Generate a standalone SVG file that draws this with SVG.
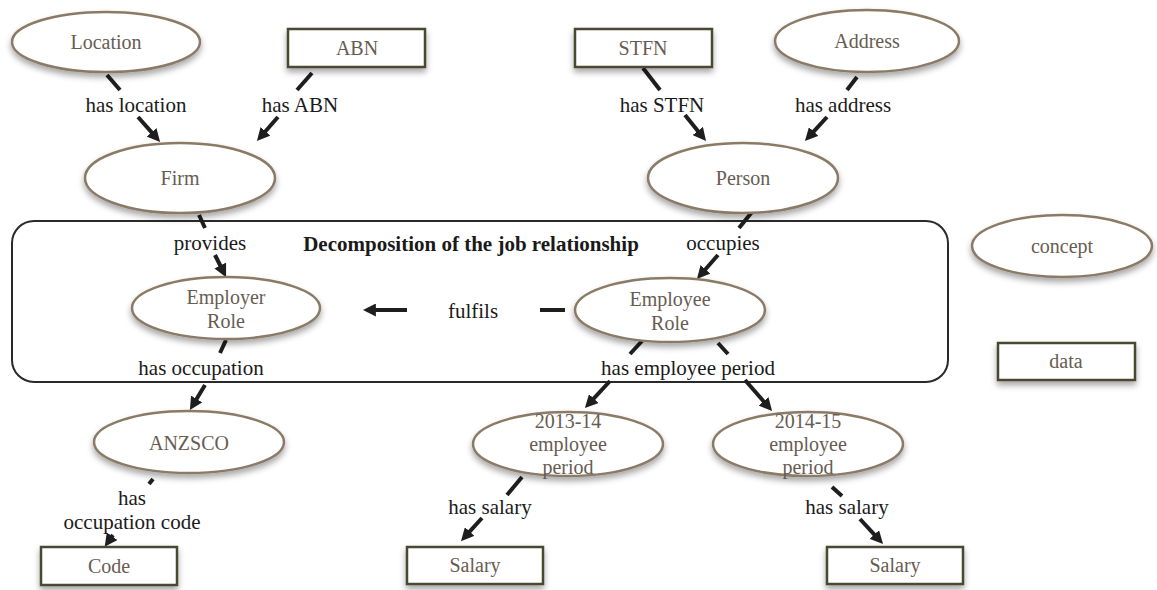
<svg xmlns="http://www.w3.org/2000/svg" width="1157" height="590" viewBox="0 0 1157 590">
<defs>
<filter id="sh" x="-20%" y="-30%" width="140%" height="170%">
<feDropShadow dx="0" dy="4" stdDeviation="3" flood-color="#000" flood-opacity="0.35"/>
</filter>
<marker id="ah" viewBox="0 0 10 10" refX="3" refY="5" markerWidth="13" markerHeight="13" markerUnits="userSpaceOnUse" orient="auto">
<path d="M0,0 L10,5 L0,10 z" fill="#1e1e1e"/>
</marker>
<style>
.con{fill:#fff;stroke:#8a7a66;stroke-width:2.5;filter:url(#sh)}
.dat{fill:#fff;stroke:#4a4a30;stroke-width:2.5;filter:url(#sh)}
text{font-family:'Liberation Serif','DejaVu Serif',serif}
.nl{font-size:20px;fill:#675c52;text-anchor:middle}
.el{font-size:21px;fill:#1a1a1a;text-anchor:middle}
.ttl{font-size:21px;font-weight:bold;fill:#1a1a1a;text-anchor:middle}
.ln{stroke:#1e1e1e;stroke-width:4;fill:none}
.ar{stroke:#1e1e1e;stroke-width:4;fill:none;marker-end:url(#ah)}
</style>
</defs>
<rect width="1157" height="590" fill="#fff"/>

<g id="frame" font-family="Liberation Serif, serif">
<rect x="12" y="221" width="936" height="161" rx="22" fill="none" stroke="#2a2a2a" stroke-width="2"/>
<text class="ttl" x="471" y="251">Decomposition of the job relationship</text>
</g>

<g id="connectors" font-family="Liberation Serif, serif">
<line class="ln" x1="107" y1="75" x2="120" y2="90"/>
<line class="ar" x1="138" y1="117" x2="154.1" y2="135.2"/>
<text class="el" x="136" y="112">has location</text>
<line class="ln" x1="312" y1="73" x2="297" y2="90"/>
<line class="ar" x1="278" y1="117" x2="262.9" y2="134.2"/>
<text class="el" x="300" y="112">has ABN</text>
<line class="ln" x1="643" y1="68" x2="660" y2="90"/>
<line class="ar" x1="685" y1="115" x2="700.3" y2="134"/>
<text class="el" x="662" y="112">has STFN</text>
<line class="ln" x1="857" y1="77" x2="847" y2="90"/>
<line class="ar" x1="827" y1="117" x2="811.1" y2="134.4"/>
<text class="el" x="843" y="112">has address</text>
<line class="ln" x1="199" y1="215" x2="205" y2="228"/>
<line class="ar" x1="215" y1="255" x2="222" y2="269"/>
<text class="el" x="210" y="250">provides</text>
<line class="ln" x1="752" y1="212" x2="739" y2="228"/>
<line class="ar" x1="718" y1="255" x2="702.9" y2="272.2"/>
<text class="el" x="723" y="250">occupies</text>
<line class="ln" x1="565" y1="310" x2="540" y2="310"/>
<line class="ar" x1="407" y1="310" x2="372" y2="310"/>
<text class="el" x="473" y="318">fulfils</text>
<line class="ln" x1="226" y1="340" x2="220" y2="353"/>
<line class="ar" x1="205" y1="385" x2="194.6" y2="402.3"/>
<text class="el" x="201" y="375">has occupation</text>
<line class="ln" x1="642" y1="341" x2="630" y2="354"/>
<line class="ar" x1="610" y1="381" x2="591.1" y2="401.4"/>
<line class="ln" x1="718" y1="343" x2="728" y2="354"/>
<line class="ar" x1="745" y1="380" x2="766.1" y2="404.2"/>
<text class="el" x="688" y="375">has employee period</text>
<line class="ln" x1="153" y1="479" x2="149" y2="484"/>
<line class="ar" x1="113" y1="535" x2="109.9" y2="539.4"/>
<text class="el" x="132" y="505">has</text>
<text class="el" x="132" y="529">occupation code</text>
<line class="ln" x1="522" y1="477" x2="507" y2="495"/>
<line class="ar" x1="482" y1="518" x2="467.1" y2="534.4"/>
<text class="el" x="490" y="514">has salary</text>
<line class="ln" x1="832" y1="487" x2="842" y2="496"/>
<line class="ar" x1="860" y1="519" x2="876.9" y2="537.4"/>
<text class="el" x="847" y="514">has salary</text>
</g>

<g id="location"><ellipse class="con" cx="106" cy="42" rx="94" ry="30"/><text class="nl" x="106" y="49">Location</text></g>
<g id="abn"><rect class="dat" x="288" y="29" width="137" height="38"/><text class="nl" x="357" y="55">ABN</text></g>
<g id="stfn"><rect class="dat" x="575" y="29" width="137" height="38"/><text class="nl" x="643" y="55">STFN</text></g>
<g id="address"><ellipse class="con" cx="867" cy="41" rx="92" ry="31"/><text class="nl" x="867" y="48">Address</text></g>
<g id="firm"><ellipse class="con" cx="180" cy="178" rx="95" ry="35"/><text class="nl" x="180" y="185">Firm</text></g>
<g id="person"><ellipse class="con" cx="743" cy="178" rx="95" ry="35"/><text class="nl" x="743" y="185">Person</text></g>
<g id="employer-role"><ellipse class="con" cx="226" cy="308" rx="94" ry="31"/><text class="nl" x="226" y="304">Employer</text><text class="nl" x="226" y="328">Role</text></g>
<g id="employee-role"><ellipse class="con" cx="670" cy="310" rx="95" ry="32"/><text class="nl" x="670" y="306">Employee</text><text class="nl" x="670" y="330">Role</text></g>
<g id="concept"><ellipse class="con" cx="1062" cy="246" rx="90" ry="31"/><text class="nl" x="1062" y="253">concept</text></g>
<g id="data"><rect class="dat" x="998" y="343" width="137" height="37"/><text class="nl" x="1066" y="368">data</text></g>
<g id="anzsco"><ellipse class="con" cx="189" cy="442" rx="95" ry="31"/><text class="nl" x="189" y="450">ANZSCO</text></g>
<g id="period-2013"><ellipse class="con" cx="568" cy="444" rx="95" ry="32"/><text class="nl" x="568" y="428">2013-14</text><text class="nl" x="568" y="451">employee</text><text class="nl" x="568" y="474">period</text></g>
<g id="period-2014"><ellipse class="con" cx="808" cy="444" rx="95" ry="32"/><text class="nl" x="808" y="428">2014-15</text><text class="nl" x="808" y="451">employee</text><text class="nl" x="808" y="474">period</text></g>
<g id="code"><rect class="dat" x="41" y="547" width="136" height="38"/><text class="nl" x="109" y="573">Code</text></g>
<g id="salary-1"><rect class="dat" x="407" y="547" width="136" height="37"/><text class="nl" x="475" y="572">Salary</text></g>
<g id="salary-2"><rect class="dat" x="827" y="547" width="136" height="37"/><text class="nl" x="895" y="572">Salary</text></g>
</svg>
